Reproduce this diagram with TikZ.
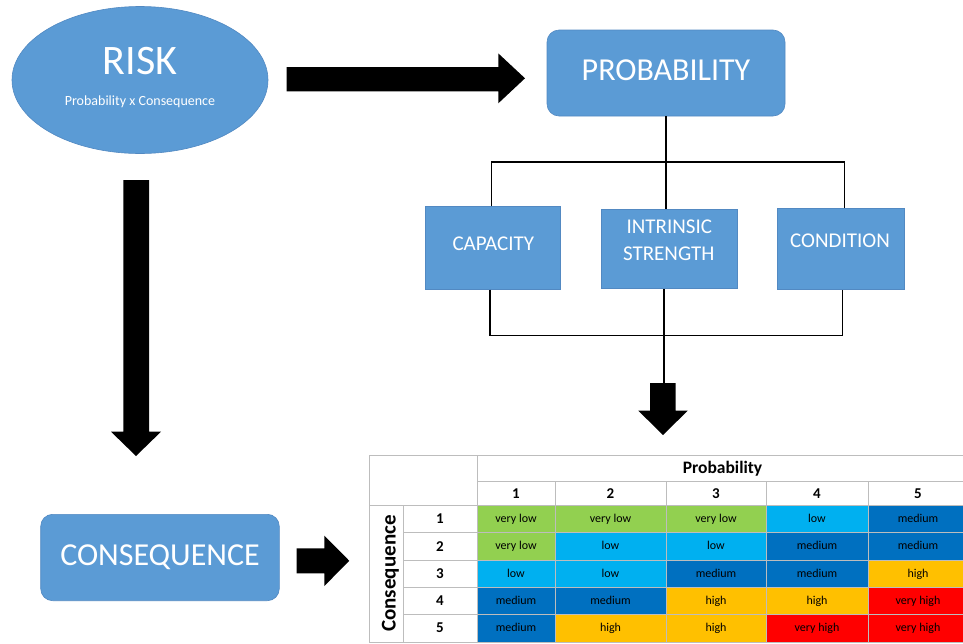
\documentclass[tikz,border=0pt]{standalone}
\usepackage{fontspec}
\setmainfont{Carlito}
\usetikzlibrary{shapes.geometric}
\definecolor{boxblue}{HTML}{5B9BD5}
\definecolor{boxedge}{HTML}{5289C2}
\definecolor{cg}{HTML}{92D050}
\definecolor{clb}{HTML}{00B0F0}
\definecolor{cdb}{HTML}{0070C0}
\definecolor{co}{HTML}{FFC000}
\definecolor{cr}{HTML}{FF0000}
\definecolor{gridgray}{HTML}{BDBDBD}
\begin{document}
\begin{tikzpicture}[x=1pt,y=-1pt,
  bluebox/.style={draw=boxedge, line width=0.6pt, fill=boxblue, inner sep=0pt},
  rbox/.style={bluebox, rounded corners=12pt},
  boxtext/.style={text=white, inner sep=0pt, anchor=base},
  conn/.style={draw=black, line width=1.2pt},
  blockarrow/.style={fill=black},
  gridline/.style={draw=gridgray, line width=0.8pt},
  celltext/.style={inner sep=0pt, anchor=mid, font=\fontsize{12}{14}\selectfont},
  headtext/.style={inner sep=0pt, font=\bfseries\fontsize{15}{17}\selectfont}]
\useasboundingbox (0,0) rectangle (963,643);

% ---- RISK ellipse
\node[ellipse, bluebox, minimum width=256pt, minimum height=147pt] (risk) at (140,80) {};
\node[boxtext, font=\fontsize{42}{46}\selectfont] (risktitle) at (140,74) {RISK};
\node[boxtext, font=\fontsize{14}{16}\selectfont] (risksub) at (140,105) {Probability x Consequence};

% ---- PROBABILITY box
\node[rbox, minimum width=238pt, minimum height=86pt] (prob) at (666,73) {};
\node[boxtext, font=\fontsize{32}{36}\selectfont] (probtext) at (666,80) {PROBABILITY};

% ---- three factor boxes
\node[bluebox, minimum width=135pt, minimum height=82.6pt] (cap) at (493.2,248) {};
\node[boxtext, font=\fontsize{21}{25}\selectfont] (captext) at (493.3,250.7) {CAPACITY};
\node[bluebox, minimum width=136pt, minimum height=79.7pt] (int) at (669.7,248.9) {};
\node[boxtext, font=\fontsize{21}{25}\selectfont] (inttext1) at (669.3,233.3) {INTRINSIC};
\node[boxtext, font=\fontsize{21}{25}\selectfont] (inttext2) at (668.8,260.7) {STRENGTH};
\node[bluebox, minimum width=126.7pt, minimum height=80.6pt] (cond) at (840.7,249) {};
\node[boxtext, font=\fontsize{21}{25}\selectfont] (condtext) at (840,247.3) {CONDITION};

% ---- CONSEQUENCE box
\node[rbox, minimum width=238.6pt, minimum height=86.4pt] (cons) at (160,557.5) {};
\node[boxtext, font=\fontsize{32}{36}\selectfont] (constext) at (160,565) {CONSEQUENCE};

% ---- tree connectors
\coordinate (tl) at (491.7,162);
\coordinate (tr) at (844.3,162);
\coordinate (bl) at (490,335.5);
\coordinate (br) at (842.7,335.5);
\coordinate (bm) at (664,335.5);
\coordinate (dtop) at (664,384);
\draw[conn] (prob.south) -- (prob.south |- int.north);
\draw[conn] (tl |- cap.north) -- (tl) -- (tr) -- (tr |- cond.north);
\draw[conn] (bl |- cap.south) -- (bl) -- (br) -- (br |- cond.south);
\draw[conn] (bm |- int.south) -- (dtop);

% ---- block arrows
\fill[blockarrow] (286.5,67) -- (498.3,67) -- (498.3,53.4) -- (525,78.3) -- (498.3,103.3) -- (498.3,91.3) -- (286.5,91.3) -- cycle;
\fill[blockarrow] (123.3,180) -- (149,180) -- (149,431.7) -- (161,431.7) -- (136,456) -- (111,431.7) -- (123.3,431.7) -- cycle;
\fill[blockarrow] (650,383) -- (675.7,383) -- (675.7,410.7) -- (687.7,410.7) -- (663,435) -- (638.3,410.7) -- (650,410.7) -- cycle;
\fill[blockarrow] (296.7,548.3) -- (324.3,548.3) -- (324.3,535.7) -- (349.3,560.8) -- (324.3,586) -- (324.3,573.3) -- (296.7,573.3) -- cycle;

% ---- risk matrix
\coordinate (X1) at (477,0);
\coordinate (X2) at (555,0);
\coordinate (X3) at (666,0);
\coordinate (X4) at (766,0);
\coordinate (X5) at (868,0);
\coordinate (X6) at (968,0);
\coordinate (Y1) at (0,505.7);
\coordinate (Y2) at (0,532.5);
\coordinate (Y3) at (0,560);
\coordinate (Y4) at (0,587.3);
\coordinate (Y5) at (0,614.3);
\coordinate (Y6) at (0,642);

\foreach \row [count=\ri] in {%
  {cg/very low,cg/very low,cg/very low,clb/low,cdb/medium},%
  {cg/very low,clb/low,clb/low,cdb/medium,cdb/medium},%
  {clb/low,clb/low,cdb/medium,cdb/medium,co/high},%
  {cdb/medium,cdb/medium,co/high,co/high,cr/very high},%
  {cdb/medium,co/high,co/high,cr/very high,cr/very high}}{%
  \foreach \cc/\tt [count=\ci] in \row {%
    \pgfmathtruncatemacro\rn{\ri+1}
    \pgfmathtruncatemacro\cn{\ci+1}
    \fill[\cc] (X\ci |- Y\ri) rectangle (X\cn |- Y\rn);
    \path (X\ci |- Y\ri) -- (X\cn |- Y\rn) node[midway, celltext, yshift=-1pt] (cell-\ri-\ci) {\tt};
  }
}

% grid lines
\draw[gridline] (369,455) -- (968,455);
\draw[gridline] (477,481.7) -- (968,481.7);
\draw[gridline] (369,505.7) -- (968,505.7);
\foreach \k in {2,3,4,5} {\draw[gridline] (403,0 |- Y\k) -- (X6 |- Y\k);}
\draw[gridline] (369,642) -- (968,642);
\draw[gridline] (369,455) -- (369,642);
\draw[gridline] (403,505.7) -- (403,642);
\draw[gridline] (477,455) -- (477,642);
\foreach \k in {2,3,4,5} {\draw[gridline] (X\k |- 0,481.7) -- (X\k |- Y6);}

% headers
\node[inner sep=0pt, font=\bfseries\fontsize{17.5}{20}\selectfont] (probhead) at (722.5,468.3) {Probability};
\foreach \k [count=\ci] in {1,2,3,4,5} {
  \pgfmathtruncatemacro\cn{\ci+1}
  \path (X\ci |- 0,481.7) -- (X\cn |- 0,505.7) node[midway, headtext] (pnum-\k) {\k};
}
\foreach \k [count=\ri] in {1,2,3,4,5} {
  \pgfmathtruncatemacro\rn{\ri+1}
  \path (403,0 |- Y\ri) -- (477,0 |- Y\rn) node[midway, headtext] (cnum-\k) {\k};
}
\node[inner sep=0pt, anchor=base, rotate=90, font=\bfseries\fontsize{21}{24}\selectfont] (conshead) at (395.5,573.5) {Consequence};
\end{tikzpicture}
\end{document}
